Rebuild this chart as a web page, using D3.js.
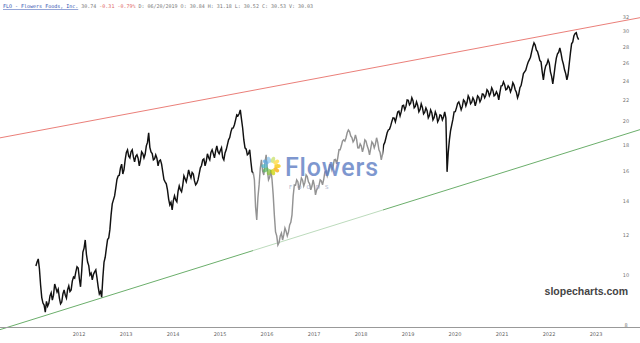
<!DOCTYPE html>
<html><head><meta charset="utf-8">
<script src="https://cdn.jsdelivr.net/npm/d3@7"></script>
<style>body{margin:0;background:#fff}svg{display:block}</style>
</head><body>
<svg id="c" width="640" height="343"></svg>
<script>
// ---- data ----
const startDate = "2011-01-31";
const stepDays = 9.13;
const prices = [
10.43,10.62,10.77,10.30,9.58,9.05,8.83,8.75,8.48,8.90,8.71,8.82,9.12,9.25,8.95,9.15,9.62,9.45,9.28,9.40,
9.03,8.80,8.87,9.20,9.37,9.15,9.03,9.38,9.54,9.30,9.37,9.75,9.93,9.88,10.16,10.40,10.34,9.85,9.50,10.20,
11.11,11.30,11.73,11.00,10.62,10.45,10.02,10.10,9.80,10.05,10.16,10.25,9.89,9.50,9.20,9.30,9.07,9.90,10.62,10.85,
11.31,11.75,11.84,12.30,13.13,13.80,14.05,14.30,14.83,15.40,15.65,15.70,16.23,16.50,15.79,16.10,16.82,17.40,17.60,17.10,
16.97,17.45,17.60,17.05,16.67,17.10,17.21,16.95,16.38,16.80,17.44,17.30,16.97,17.25,17.92,18.20,19.00,17.80,17.44,17.30,
16.82,16.90,17.21,16.95,16.38,16.75,16.82,16.50,15.94,15.40,15.24,15.10,14.70,14.10,13.74,13.90,13.43,14.00,14.31,14.05,
13.93,14.60,14.96,14.70,14.57,15.00,15.65,15.45,15.24,15.60,16.08,15.75,15.51,15.90,15.79,15.30,15.03,15.15,15.37,15.80,
16.23,16.40,16.82,16.90,16.38,16.70,17.29,17.00,16.82,17.40,17.60,17.30,16.97,17.50,17.92,17.45,17.29,17.55,17.76,17.00,
16.82,17.35,17.60,18.00,18.41,18.60,19.08,19.40,19.42,19.70,20.14,20.60,20.51,20.70,21.07,20.20,19.42,18.40,17.76,17.65,
17.21,17.30,17.60,16.70,15.94,15.90,15.37,13.60,12.84,14.20,15.03,16.20,16.82,16.00,15.72,16.60,17.21,16.10,15.37,15.55,
16.08,15.40,14.37,13.10,12.16,11.95,11.47,11.60,11.95,12.10,11.73,12.00,12.38,12.20,11.95,12.15,12.55,12.70,13.13,14.30,
15.03,15.00,15.37,15.25,14.70,15.05,15.51,15.35,14.96,15.20,15.72,15.60,15.24,15.10,14.70,14.95,15.37,15.00,14.37,14.70,
14.83,15.00,15.37,15.30,15.03,15.40,15.94,16.00,15.65,15.95,16.45,16.45,16.08,16.35,16.82,16.85,16.53,17.00,17.60,17.60,
17.92,18.30,18.41,18.30,18.58,19.00,19.25,19.10,18.74,18.60,18.24,18.40,18.83,18.45,17.76,17.75,18.08,17.90,17.44,17.80,
18.41,18.30,17.92,17.65,17.21,17.70,18.24,18.10,17.76,18.05,18.58,18.20,17.60,17.40,16.82,17.25,18.00,18.20,18.58,19.00,
19.25,19.30,19.60,20.00,20.32,20.30,19.96,20.40,20.88,20.95,20.51,20.90,21.45,21.50,21.07,21.40,22.04,22.00,21.55,21.70,
22.24,21.95,21.26,21.40,21.84,21.50,20.88,21.10,21.65,21.30,20.69,20.85,21.26,21.00,20.32,20.55,21.07,20.80,20.14,20.35,
20.88,20.60,19.96,20.20,20.60,20.55,20.14,20.40,20.88,20.30,15.94,17.40,18.41,19.20,19.69,20.20,20.88,20.90,21.26,21.70,
21.84,21.50,21.07,21.40,22.04,21.90,21.45,21.80,22.44,22.20,21.65,21.80,22.24,22.00,21.45,21.90,22.44,22.30,21.84,22.10,
22.64,22.60,22.24,22.50,23.06,22.90,22.44,22.70,23.27,23.00,22.44,22.55,22.85,22.60,22.04,22.80,23.48,23.50,23.90,23.60,
23.06,23.15,23.48,23.30,22.85,23.20,23.80,23.55,23.06,22.80,22.24,22.60,23.27,23.50,24.12,24.80,25.00,25.20,25.68,26.10,
26.39,26.70,27.36,28.00,28.49,28.20,27.60,27.40,26.88,26.30,26.15,25.00,24.12,25.10,25.68,25.90,26.39,26.00,25.00,24.50,
23.69,24.60,25.68,26.60,27.12,27.30,27.85,27.20,26.39,25.90,25.23,24.80,24.12,24.70,25.92,27.20,28.36,28.60,29.41,29.70,
29.81,29.20,28.90];
const yearTicks = ["2012","2013","2014","2015","2016","2017","2018","2019","2020","2021","2022","2023"];
const priceTicks = [8,10,12,14,16,18,20,22,24,26,28,30,32];
const upperTrend = [["2015-06-05",22.75],["2022-07-20",30.19]];
const lowerTrend = [["2012-06-26",9.04],["2016-03-25",11.58]];
const header = [
  {t:"FLO - Flowers Foods, Inc.", c:"#2f4fb0", u:true},
  {t:" 30.74 ", c:"#777"},
  {t:"-0.31 -0.79%", c:"#e06666"},
  {t:" D: 06/20/2019 O: 30.84 H: 31.18 L: 30.52 C: 30.53 V: 30.03", c:"#777"}
];

// ---- drawing ----
const W = 640, H = 343;
const svg = d3.select("#c");
const parse = d3.timeParse("%Y-%m-%d");
const t0 = parse(startDate);
const series = prices.map((v,i)=>({d:new Date(t0.getTime()+i*stepDays*864e5), v}));

const x = d3.scaleTime().domain([parse("2012-01-01"), parse("2023-01-01")]).range([79, 596]);
const y = d3.scaleLog().domain([8, 32]).range([325, 17]);

function trend(anchors, color){
  const p = anchors.map(a=>[x(parse(a[0])), y(a[1])]);
  const s = (p[1][1]-p[0][1])/(p[1][0]-p[0][0]);
  const yAt = xx => p[0][1] + s*(xx-p[0][0]);
  svg.append("line").attr("x1",0).attr("y1",yAt(0)).attr("x2",W).attr("y2",yAt(W))
    .attr("stroke",color).attr("stroke-width",0.9);
}
trend(upperTrend, "#e8706a");
trend(lowerTrend, "#5aa55a");

svg.append("path").datum(series)
  .attr("fill","none").attr("stroke","#111").attr("stroke-width",1.45).attr("stroke-linejoin","miter")
  .attr("d", d3.line().x(d=>x(d.d)).y(d=>y(d.v)));

// watermark
const wm = svg.append("g");
wm.append("rect").attr("x",253).attr("y",100).attr("width",130).attr("height",152).attr("fill","#fff").attr("opacity",0.55);
const petals = ["#f6c500","#f7a800","#c9d400","#8cc63f","#5cb85c","#4fb8c8","#5aa9e6","#8fc7f0","#c8e06a","#ffd83a"];
petals.forEach((c,i)=>{
  const a = i/petals.length*2*Math.PI;
  const cx = 271+6.5*Math.cos(a), cy = 166+6.5*Math.sin(a);
  wm.append("ellipse").attr("cx",cx).attr("cy",cy).attr("rx",3.2).attr("ry",2)
    .attr("transform",`rotate(${a*180/Math.PI},${cx},${cy})`).attr("fill",c).attr("opacity",0.75);
});
wm.append("circle").attr("cx",271).attr("cy",166).attr("r",3).attr("fill","#fff");
wm.append("text").attr("x",285).attr("y",176).text("Flowers")
  .attr("font-family","Roboto, 'Open Sans', sans-serif").attr("font-weight",500).attr("font-size",25)
  .attr("fill","#5f7ec4").attr("opacity",0.8).attr("textLength",93);
wm.append("text").attr("x",289).attr("y",189).text("FOODS")
  .attr("font-family","'DejaVu Sans', sans-serif").attr("font-size",5.5).attr("letter-spacing",5)
  .attr("fill","#9aa6c4").attr("opacity",0.9);

// axis
svg.append("line").attr("x1",0).attr("x2",W).attr("y1",327.5).attr("y2",327.5).attr("stroke","#999").attr("stroke-width",1);
svg.append("g").selectAll("text").data(yearTicks).join("text")
  .attr("x",d=>x(parse(d+"-01-01"))).attr("y",336).attr("text-anchor","middle")
  .attr("font-family","'DejaVu Sans', sans-serif").attr("font-size",5).attr("fill","#666").text(d=>d);
svg.append("g").selectAll("text").data(priceTicks).join("text")
  .attr("x",626).attr("y",d=>y(d)+2).attr("text-anchor","middle")
  .attr("font-family","'DejaVu Sans', sans-serif").attr("font-size",5).attr("fill","#777").text(d=>d);

// header
const ht = svg.append("text").attr("x",3).attr("y",8).attr("xml:space","preserve")
  .attr("font-family","'DejaVu Sans Mono', monospace").attr("font-size",5);
header.forEach(h=>{
  ht.append("tspan").text(h.t).attr("fill",h.c).attr("text-decoration",h.u?"underline":null);
});

// brand
svg.append("text").attr("x",628).attr("y",295).attr("text-anchor","end").text("slopecharts.com")
  .attr("font-family","'Liberation Sans', Arial, sans-serif").attr("font-weight","bold").attr("font-size",10.5).attr("fill","#444");
</script>
</body></html>
